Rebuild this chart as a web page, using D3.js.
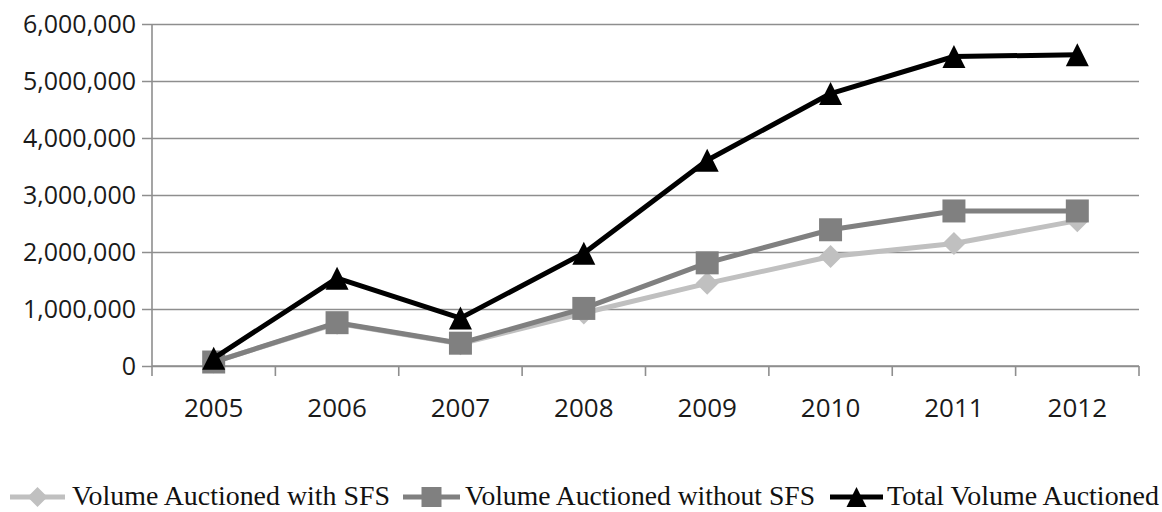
<!DOCTYPE html>
<html>
<head>
<meta charset="utf-8">
<script src="https://cdn.jsdelivr.net/npm/d3@7"></script>
<style>
  html, body { margin: 0; padding: 0; background: #fff; }
  svg { display: block; }
</style>
</head>
<body>
<svg id="chart" width="1162" height="512"></svg>
<script>
// Auction volumes by year
const years = ["2005", "2006", "2007", "2008", "2009", "2010", "2011", "2012"];
const withSFS = [70000, 750000, 390000, 930000, 1450000, 1920000, 2150000, 2550000];
const withoutSFS = [70000, 760000, 400000, 1010000, 1810000, 2390000, 2720000, 2720000];
const totalVolume = [135000, 1540000, 840000, 1980000, 3610000, 4780000, 5430000, 5460000];
const yTicks = [0, 1000000, 2000000, 3000000, 4000000, 5000000, 6000000];
const seriesNames = ["Volume Auctioned with SFS", "Volume Auctioned without SFS", "Total Volume Auctioned"];

const svg = d3.select("#chart");
const plot = { left: 152, right: 1139, top: 24, bottom: 366 };

const x = d3.scaleBand().domain(years).range([plot.left, plot.right]);
const y = d3.scaleLinear().domain([0, 6000000]).range([plot.bottom, plot.top]);
const cx = d => x(d) + x.bandwidth() / 2;

const gridColor = "#8e8e8e";
const fmt = d3.format(",");

// marker shapes where "size" is the full width in pixels
const markerDiamond = { draw(ctx, w) { const h = w / 2; ctx.moveTo(0, -h); ctx.lineTo(h, 0); ctx.lineTo(0, h); ctx.lineTo(-h, 0); ctx.closePath(); } };
const markerSquare = { draw(ctx, w) { const h = w / 2; ctx.rect(-h, -h, w, w); } };
const markerTriangle = { draw(ctx, w) { const h = w / 2; ctx.moveTo(0, -h); ctx.lineTo(h, h); ctx.lineTo(-h, h); ctx.closePath(); } };

// horizontal gridlines with outward ticks
const yAxis = d3.axisLeft(y).tickValues(yTicks).tickFormat(fmt)
  .tickSize(-(plot.right - plot.left)).tickSizeOuter(0).tickPadding(16);
const gy = svg.append("g").attr("transform", `translate(${plot.left},0)`).call(yAxis);
gy.select(".domain").remove();
gy.selectAll(".tick line")
  .attr("x1", -10)
  .attr("stroke", gridColor).attr("stroke-width", 1.6);
gy.selectAll(".tick text")
  .attr("font-family", "'Open Sans', sans-serif").attr("font-size", 25)
  .attr("fill", "#1a1a1a").attr("dy", "0.35em");

// vertical axis line
svg.append("line")
  .attr("x1", plot.left).attr("x2", plot.left)
  .attr("y1", y(6000000)).attr("y2", plot.bottom)
  .attr("stroke", gridColor).attr("stroke-width", 1.6);

// category axis: line, boundary ticks and year labels
const gx = svg.append("g").attr("transform", `translate(0,${plot.bottom})`);
gx.append("line").attr("x1", plot.left).attr("x2", plot.right)
  .attr("stroke", gridColor).attr("stroke-width", 1.6);
const bounds = years.map(d => x(d)).concat([plot.right]);
gx.selectAll("line.tk").data(bounds).enter().append("line").attr("class", "tk")
  .attr("x1", d => d).attr("x2", d => d).attr("y1", 0).attr("y2", 10)
  .attr("stroke", gridColor).attr("stroke-width", 1.6);
gx.selectAll("text").data(years).enter().append("text")
  .attr("x", d => cx(d)).attr("y", 51)
  .attr("text-anchor", "middle")
  .attr("font-family", "'Open Sans', sans-serif").attr("font-size", 26)
  .attr("fill", "#1a1a1a").text(d => d);

// series
const series = [
  { name: seriesNames[0], values: withSFS, color: "#c0c0c0", shape: markerDiamond, size: 23 },
  { name: seriesNames[1], values: withoutSFS, color: "#808080", shape: markerSquare, size: 23 },
  { name: seriesNames[2], values: totalVolume, color: "#000000", shape: markerTriangle, size: 23 }
];

const line = d3.line().x((d, i) => cx(years[i])).y(d => y(d));

series.forEach(s => {
  const g = svg.append("g");
  g.append("path").datum(s.values)
    .attr("d", line).attr("fill", "none")
    .attr("stroke", s.color).attr("stroke-width", 5)
    .attr("stroke-linejoin", "round");
  g.selectAll("path.m").data(s.values).enter().append("path").attr("class", "m")
    .attr("d", d3.symbol().type(s.shape).size(s.size))
    .attr("transform", (d, i) => `translate(${cx(years[i])},${y(d)})`)
    .attr("fill", s.color);
});

// legend
const legend = [
  { lx: 10, lw: 55, tx: 72, tl: 318 },
  { lx: 403, lw: 57, tx: 465, tl: 350 },
  { lx: 830, lw: 53, tx: 887, tl: 272 }
];
const ly = 497;
series.forEach((s, i) => {
  const L = legend[i];
  const g = svg.append("g");
  g.append("line").attr("x1", L.lx).attr("x2", L.lx + L.lw)
    .attr("y1", ly).attr("y2", ly)
    .attr("stroke", s.color).attr("stroke-width", 5);
  g.append("path")
    .attr("d", d3.symbol().type(s.shape).size(20))
    .attr("transform", `translate(${L.lx + L.lw / 2},${ly})`)
    .attr("fill", s.color);
  g.append("text")
    .attr("x", L.tx).attr("y", 505)
    .attr("font-family", "'Liberation Serif', 'Times New Roman', serif")
    .attr("font-size", 28).attr("fill", "#111")
    .attr("textLength", L.tl).attr("lengthAdjust", "spacingAndGlyphs")
    .text(s.name);
});
</script>
</body>
</html>
